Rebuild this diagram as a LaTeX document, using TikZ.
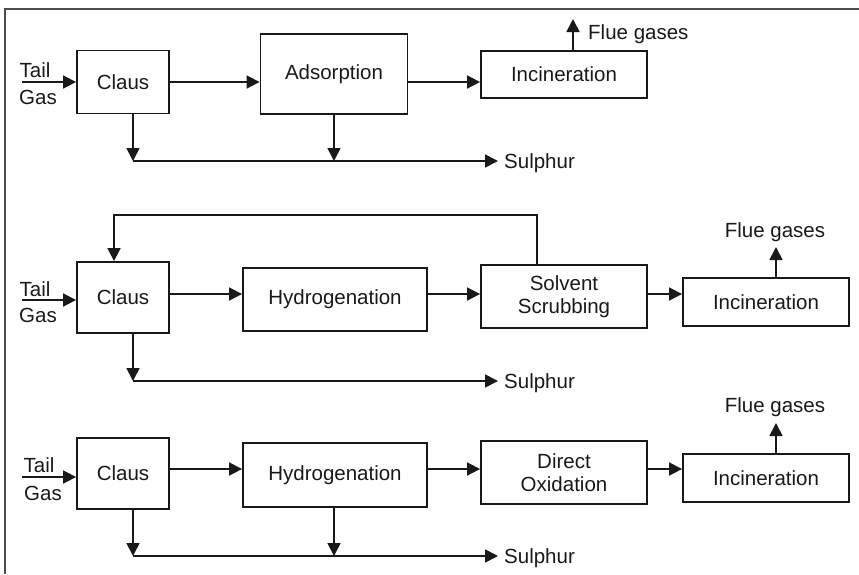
\documentclass[tikz,border=0pt]{standalone}
\usepackage{fontspec}
\setmainfont{Liberation Sans}
\usetikzlibrary{arrows.meta}
\begin{document}
\begin{tikzpicture}[x=1pt,y=-1pt,
  every node/.style={font=\fontsize{20.5}{23}\selectfont, inner sep=0pt},
  unit/.style={draw=black!90, line width=1.8pt, align=center, text=black!90},
  flow/.style={draw=black!90, line width=1.7pt, -{Triangle[length=13pt,width=13pt]}},
  lbl/.style={text=black!90}]
\useasboundingbox (0,0) rectangle (859,574);
% frame
\draw[line width=2pt, black!70] (5,574) -- (5,9) -- (859,9);

% ---------- first train ----------
\node[unit, minimum width=92pt, minimum height=63pt] (claus1) at (123,82) {Claus};
\node[unit, minimum width=147pt, minimum height=80pt] (ads) at (334,74) {Adsorption};
\node[unit, minimum width=166pt, minimum height=47pt] (inc1) at (564,74.5) {Incineration};
\node[lbl] (tail1) at (35,70) {Tail};
\node[lbl] (gas1) at (38,97) {Gas};
\coordinate (in1) at (22,82);
\draw[flow] (in1) -- (claus1.west);
\draw[flow] (claus1.east) -- (claus1.east -| ads.west);
\draw[flow] (claus1.east -| ads.east) -- (claus1.east -| inc1.west);
\coordinate (fg1) at (573,19);
\draw[flow] (inc1.north -| fg1) -- (fg1);
\node[lbl, anchor=west] (flue1) at (588,34) {Flue gases};
\coordinate (s1a) at (133,161);
\coordinate (s1b) at (334,161);
\coordinate (s1) at (498,161);
\draw[flow] (claus1.south -| s1a) -- (s1a);
\draw[flow] (ads.south) -- (s1b);
\draw[flow] (s1a) -- (s1);
\node[lbl, anchor=west] (sul1) at (504,163) {Sulphur};

% ---------- second train ----------
\node[unit, minimum width=92pt, minimum height=71pt] (claus2) at (123,297.5) {Claus};
\node[unit, minimum width=184pt, minimum height=63pt] (hyd2) at (335,299.5) {Hydrogenation};
\node[unit, minimum width=166pt, minimum height=63pt] (solv) at (564,296.5) {Solvent\\Scrubbing};
\node[unit, minimum width=166pt, minimum height=48pt] (inc2) at (766,302) {Incineration};
\node[lbl] (tail2) at (35,289) {Tail};
\node[lbl] (gas2) at (38,315) {Gas};
\coordinate (in2) at (22,300);
\coordinate (r2) at (0,294);
\draw[flow] (in2) -- (in2 -| claus2.west);
\draw[flow] (r2 -| claus2.east) -- (r2 -| hyd2.west);
\draw[flow] (r2 -| hyd2.east) -- (r2 -| solv.west);
\draw[flow] (r2 -| solv.east) -- (r2 -| inc2.west);
% recycle loop back to the Claus unit
\coordinate (rc1) at (537,215);
\coordinate (rc2) at (114,215);
\draw[flow] (solv.north -| rc1) -- (rc1) -- (rc2) -- (claus2.north -| rc2);
\coordinate (fg2) at (776,247);
\draw[flow] (inc2.north -| fg2) -- (fg2);
\node[lbl] (flue2) at (775,232) {Flue gases};
\coordinate (s2a) at (133,381);
\coordinate (s2) at (498,381);
\draw[flow] (claus2.south -| s2a) -- (s2a);
\draw[flow] (s2a) -- (s2);
\node[lbl, anchor=west] (sul2) at (504,383) {Sulphur};

% ---------- third train ----------
\node[unit, minimum width=92pt, minimum height=71pt] (claus3) at (123,473.5) {Claus};
\node[unit, minimum width=184pt, minimum height=64pt] (hyd3) at (335,475) {Hydrogenation};
\node[unit, minimum width=166pt, minimum height=63pt] (dox) at (564,472.5) {Direct\\Oxidation};
\node[unit, minimum width=166pt, minimum height=48pt] (inc3) at (766,478) {Incineration};
\node[lbl] (tail3) at (39,465) {Tail};
\node[lbl] (gas3) at (43,493) {Gas};
\coordinate (in3) at (22,477);
\coordinate (r3) at (0,469);
\draw[flow] (in3) -- (in3 -| claus3.west);
\draw[flow] (r3 -| claus3.east) -- (r3 -| hyd3.west);
\draw[flow] (r3 -| hyd3.east) -- (r3 -| dox.west);
\draw[flow] (r3 -| dox.east) -- (r3 -| inc3.west);
\coordinate (fg3) at (776,423);
\draw[flow] (inc3.north -| fg3) -- (fg3);
\node[lbl] (flue3) at (775,407) {Flue gases};
\coordinate (s3a) at (133,556);
\coordinate (s3b) at (334,556);
\coordinate (s3) at (498,556);
\draw[flow] (claus3.south -| s3a) -- (s3a);
\draw[flow] (hyd3.south -| s3b) -- (s3b);
\draw[flow] (s3a) -- (s3);
\node[lbl, anchor=west] (sul3) at (504,558) {Sulphur};
\end{tikzpicture}
\end{document}
